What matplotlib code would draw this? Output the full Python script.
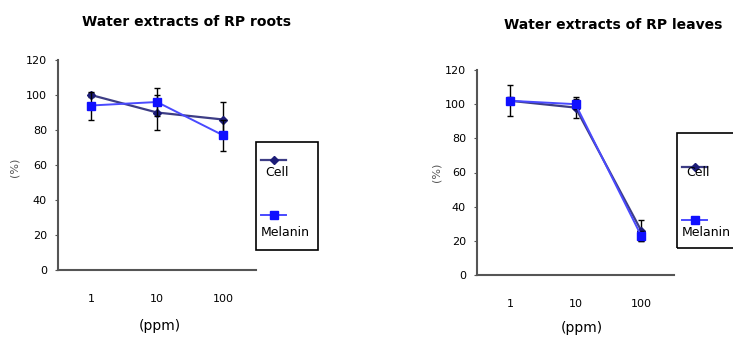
import matplotlib
matplotlib.use('Agg')
import matplotlib.pyplot as plt
from matplotlib.lines import Line2D
from matplotlib.patches import Rectangle

# data
doses = ['1', '10', '100']

roots_cell = [100, 90, 86]
roots_cell_err = [1, 10, 10]
roots_mel = [94, 96, 77]
roots_mel_err = [8, 8, 9]

leaves_cell = [102, 98, 26]
leaves_cell_err = [9, 6, 6]
leaves_mel = [102, 100, 23]
leaves_mel_err = [2, 3, 3]

CELL = '#1c1c78'
CELL_LINE = '#3d3d85'
MEL = '#1010ff'
MEL_LINE = '#4a4aff'
GRAY = '#555555'

fig = plt.figure(figsize=(7.33, 3.39), dpi=100)
W, H = 733, 339


def fx(px):
    return px / W


def fy(py):
    return 1 - py / H


def panel(rect, cell, cell_err, mel, mel_err):
    ax = fig.add_axes(rect)
    xs = range(len(doses))
    ax.errorbar(xs, cell, yerr=cell_err, color=CELL_LINE, ecolor='black',
                elinewidth=1, capsize=2.5, lw=1.6, marker='D', ms=4,
                mfc=CELL, mec=CELL, zorder=2)
    ax.errorbar(xs, mel, yerr=mel_err, color=MEL_LINE, ecolor='black',
                elinewidth=1, capsize=2.5, lw=1.4, marker='s', ms=6,
                mfc=MEL, mec=MEL, zorder=3)
    ax.set_xlim(-0.5, 2.5)
    ax.set_ylim(0, 120)
    ax.set_yticks(range(0, 121, 20))
    ax.set_xticks(list(xs))
    ax.set_xticklabels(doses)
    for s in ['top', 'right']:
        ax.spines[s].set_visible(False)
    for s in ['left', 'bottom']:
        ax.spines[s].set_color(GRAY)
        ax.spines[s].set_linewidth(1.5)
    ax.tick_params(axis='x', length=0, pad=17, labelsize=8)
    ax.tick_params(axis='y', length=2, pad=6, labelsize=8, color=GRAY)
    return ax


def legend_box(x0, y0, x1, y1, cell_y, cell_ty, mel_y, mel_ty):
    fig.add_artist(Rectangle((fx(x0), fy(y1)), fx(x1 - x0), (y1 - y0) / H,
                             transform=fig.transFigure, fill=False,
                             ec='black', lw=1.2, clip_on=False))
    fig.add_artist(Line2D([fx(x0 + 5), fx(x0 + 30)], [fy(cell_y)] * 2,
                          color=CELL_LINE, lw=1.6, transform=fig.transFigure))
    fig.add_artist(Line2D([fx(x0 + 17.5)], [fy(cell_y)], marker='D', ms=4,
                          color=CELL, transform=fig.transFigure))
    fig.add_artist(Line2D([fx(x0 + 5), fx(x0 + 30)], [fy(mel_y)] * 2,
                          color=MEL_LINE, lw=1.4, transform=fig.transFigure))
    fig.add_artist(Line2D([fx(x0 + 17.5)], [fy(mel_y)], marker='s', ms=6,
                          color=MEL, transform=fig.transFigure))
    fig.text(fx(x0 + 9), fy(cell_ty), 'Cell', fontsize=9, va='center')
    fig.text(fx(x0 + 5), fy(mel_ty), 'Melanin', fontsize=9, va='center')


ax1 = panel([fx(58), fy(270), fx(256 - 58), (270 - 60) / H],
            roots_cell, roots_cell_err, roots_mel, roots_mel_err)
ax2 = panel([fx(477), fy(275), fx(674 - 477), (275 - 70) / H],
            leaves_cell, leaves_cell_err, leaves_mel, leaves_mel_err)

legend_box(256, 142, 318, 250, 160, 172, 215, 232)
legend_box(677, 133, 745, 248, 167, 172, 220, 232)

title_kw = dict(fontsize=10, fontweight='bold', ha='center', va='center',
                family=['Liberation Sans Narrow', 'DejaVu Sans'])
fig.text(fx(186), fy(22), 'Water extracts of RP roots', **title_kw)
fig.text(fx(613), fy(25), 'Water extracts of RP leaves', **title_kw)

fig.text(fx(15), fy(167), '(%)', rotation=90, fontsize=8, color=GRAY,
         ha='center', va='center')
fig.text(fx(437), fy(172), '(%)', rotation=90, fontsize=8, color=GRAY,
         ha='center', va='center')
fig.text(fx(160), fy(326), '(ppm)', fontsize=10, ha='center', va='center')
fig.text(fx(582), fy(328), '(ppm)', fontsize=10, ha='center', va='center')

fig.savefig('out.png', dpi=100)
